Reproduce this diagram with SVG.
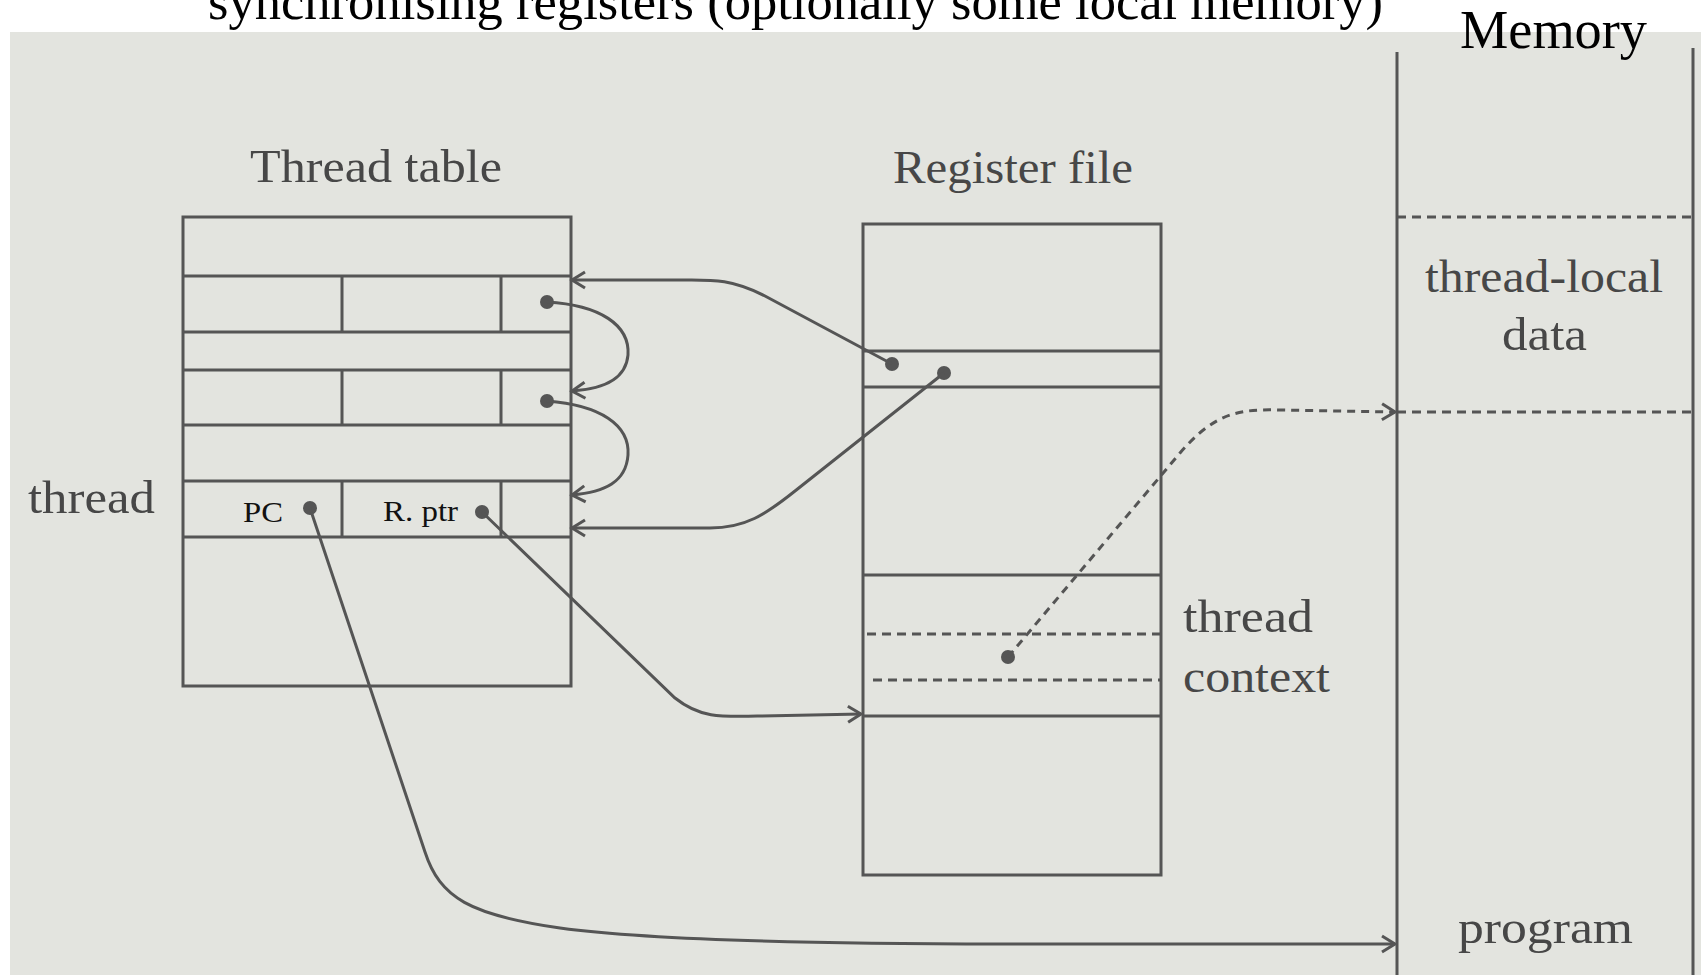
<svg xmlns="http://www.w3.org/2000/svg" width="1701" height="975" viewBox="0 0 1701 975">
<defs>
<style>
.ln{fill:none;stroke:#555;stroke-width:3}
.dsh{fill:none;stroke:#555;stroke-width:3;stroke-dasharray:9 6}
.con{fill:none;stroke:#555;stroke-width:3}
.dcon{fill:none;stroke:#555;stroke-width:3;stroke-dasharray:8 6}
.dot{fill:#555}
.lbl{font-family:"Liberation Serif","Times New Roman",serif;font-size:46px;fill:#474747}
.sm{font-family:"Liberation Serif","Times New Roman",serif;font-size:30px;fill:#111}
.hd{font-family:"Liberation Serif","Times New Roman",serif;fill:#000}
</style>
<marker id="ah" markerWidth="20" markerHeight="20" refX="0" refY="0" viewBox="-16 -10 20 20" orient="auto" markerUnits="userSpaceOnUse">
<path d="M-13,-8 L0,0 L-13,8" fill="none" stroke="#555" stroke-width="3"/>
</marker>
</defs>
<rect x="0" y="0" width="1701" height="975" fill="#ffffff"/>
<rect x="10" y="32" width="1691" height="943" fill="#e3e4df"/>
<g id="title">
<text class="hd" x="208" y="19" font-size="53" textLength="1175" lengthAdjust="spacingAndGlyphs">synchronising registers (optionally some local memory)</text>
</g>
<g id="thread-table">
<text class="lbl" x="250" y="182" textLength="252" lengthAdjust="spacingAndGlyphs">Thread table</text>
<rect class="ln" x="183" y="217" width="388" height="469"/>
<path class="ln" d="M183,276H571M183,332H571M183,370H571M183,425H571M183,481H571M183,537H571"/>
<path class="ln" d="M342,276V332M501,276V332M342,370V425M501,370V425M342,481V537M501,481V537"/>
<text class="sm" x="243" y="522" textLength="40" lengthAdjust="spacingAndGlyphs">PC</text>
<text class="sm" x="383" y="521" textLength="75" lengthAdjust="spacingAndGlyphs">R. ptr</text>
<circle class="dot" cx="547" cy="302" r="7"/>
<circle class="dot" cx="547" cy="401" r="7"/>
<circle class="dot" cx="310" cy="508" r="7"/>
<circle class="dot" cx="482" cy="512" r="7"/>
</g>
<g id="thread-label">
<text class="lbl" x="28" y="513" textLength="127" lengthAdjust="spacingAndGlyphs">thread</text>
</g>
<g id="register-file">
<text class="lbl" x="893" y="183" textLength="240" lengthAdjust="spacingAndGlyphs">Register file</text>
<rect class="ln" x="863" y="224" width="298" height="651"/>
<path class="ln" d="M863,351H1161M863,387H1161M863,575H1161M863,716H1161"/>
<path class="dsh" d="M867,634H1161M873,680H1161"/>
<circle class="dot" cx="892" cy="364" r="7"/>
<circle class="dot" cx="944" cy="373" r="7"/>
<circle class="dot" cx="1008" cy="657" r="7"/>
</g>
<g id="thread-context-label">
<text class="lbl" x="1183" y="632" textLength="130" lengthAdjust="spacingAndGlyphs">thread</text>
<text class="lbl" x="1183" y="692" textLength="147" lengthAdjust="spacingAndGlyphs">context</text>
</g>
<g id="memory">
<text class="hd" x="1460" y="48" font-size="54" textLength="187" lengthAdjust="spacingAndGlyphs">Memory</text>
<path class="ln" d="M1397,52V975M1693,48V975"/>
<path class="dsh" d="M1397,217H1693M1397,412H1693"/>
<text class="lbl" x="1425" y="292" textLength="238" lengthAdjust="spacingAndGlyphs">thread-local</text>
<text class="lbl" x="1502" y="350" textLength="85" lengthAdjust="spacingAndGlyphs">data</text>
<text class="lbl" x="1458" y="943" textLength="175" lengthAdjust="spacingAndGlyphs">program</text>
</g>
<g id="connectors">
<path class="con" marker-end="url(#ah)" d="M892,364 L765,296 C730,278 710,280 680,280 L572,280"/>
<path class="con" marker-end="url(#ah)" d="M944,373 L795,491 C765,515 745,528 710,528 L572,528"/>
<path class="con" marker-end="url(#ah)" d="M547,302 C600,305 630,325 628,355 C626,378 605,389 572,391"/>
<path class="con" marker-end="url(#ah)" d="M547,401 C600,405 630,425 628,455 C626,482 605,492 572,495"/>
<path class="con" marker-end="url(#ah)" d="M310,508 L425,852 C440,898 470,915 560,928 C650,940 800,944 1000,944 L1395,944"/>
<path class="con" marker-end="url(#ah)" d="M482,512 L675,698 C700,718 720,717 760,716 L861,714"/>
<path class="dcon" marker-end="url(#ah)" d="M1008,657 L1180,453 C1215,412 1240,409 1280,410 L1395,412"/>
</g>
</svg>
